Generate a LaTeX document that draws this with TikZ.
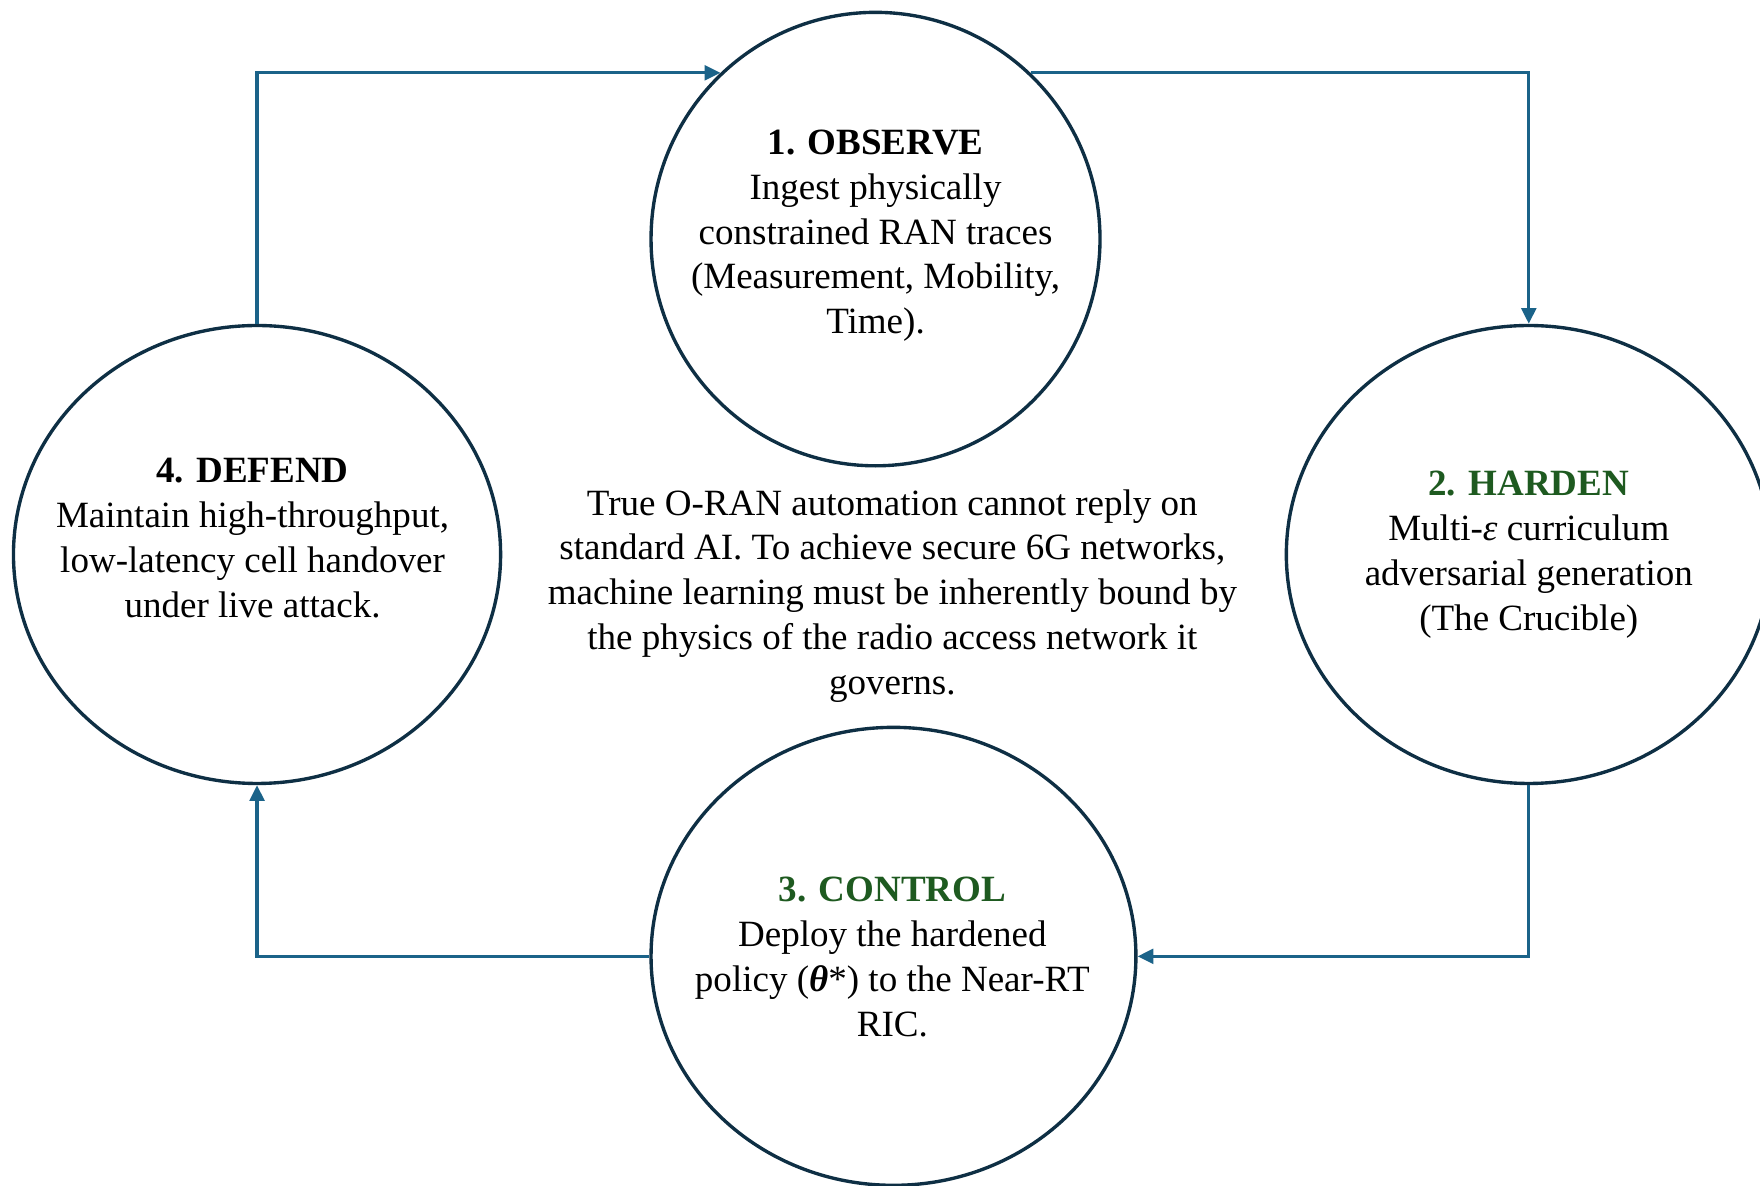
\documentclass[tikz,border=0pt]{standalone}
\usepackage{fontspec}
\setmainfont{Liberation Serif}
\usetikzlibrary{shapes.geometric,arrows.meta}
\definecolor{ringcol}{HTML}{0E2F44}
\definecolor{linkcol}{HTML}{1B6389}
\definecolor{titlegreen}{HTML}{1E5A20}
\tikzset{
  ring/.style={draw=ringcol, line width=3pt, shape=ellipse, inner sep=0pt, fill=white},
  body/.style={align=center, font=\fontsize{33}{40}\selectfont, text=black},
  link/.style={draw=linkcol, line width=3pt, -{Triangle[length=14pt,width=13pt]}},
}
\begin{document}
\begin{tikzpicture}[x=1pt,y=-1pt]
\clip (0,0) rectangle (1568,1056);
\fill[white] (0,0) rectangle (1568,1056);

\node[ring, minimum width=400pt, minimum height=404pt] (obs) at (780,213) {};
\node[ring, minimum width=432pt, minimum height=408pt] (har) at (1362,494) {};
\node[ring, minimum width=432pt, minimum height=408pt] (ctl) at (796,852) {};
\node[ring, minimum width=434pt, minimum height=408pt] (def) at (229,494) {};

\node[body] (obst) at (780,210) {\textbf{1. OBSERVE}\\Ingest physically\\constrained RAN traces\\(Measurement, Mobility,\\Time).};
\node[body] (hart) at (1362,494) {\textcolor{titlegreen}{\textbf{2. HARDEN}}\\Multi-\textit{ε} curriculum\\adversarial generation\\(The Crucible)};
\node[body] (ctlt) at (795,852.5) {\textcolor{titlegreen}{\textbf{3. CONTROL}}\\Deploy the hardened\\policy (\textbf{\textit{θ}}*) to the Near-RT\\RIC.};
\node[body] (deft) at (225,479.5) {\textbf{4. DEFEND}\\Maintain high-throughput,\\low-latency cell handover\\under live attack.};
\node[body] (msg) at (795,531) {True O-RAN automation cannot reply on\\standard AI. To achieve secure 6G networks,\\machine learning must be inherently bound by\\the physics of the radio access network it\\governs.};

\draw[link] (def.north) |- (obs.133.4);
\draw[link] (obs.47.4) -| (har.north);
\draw[link] (har.south) |- (ctl.east);
\draw[link] (ctl.west) -| (def.south);
\end{tikzpicture}
\end{document}
